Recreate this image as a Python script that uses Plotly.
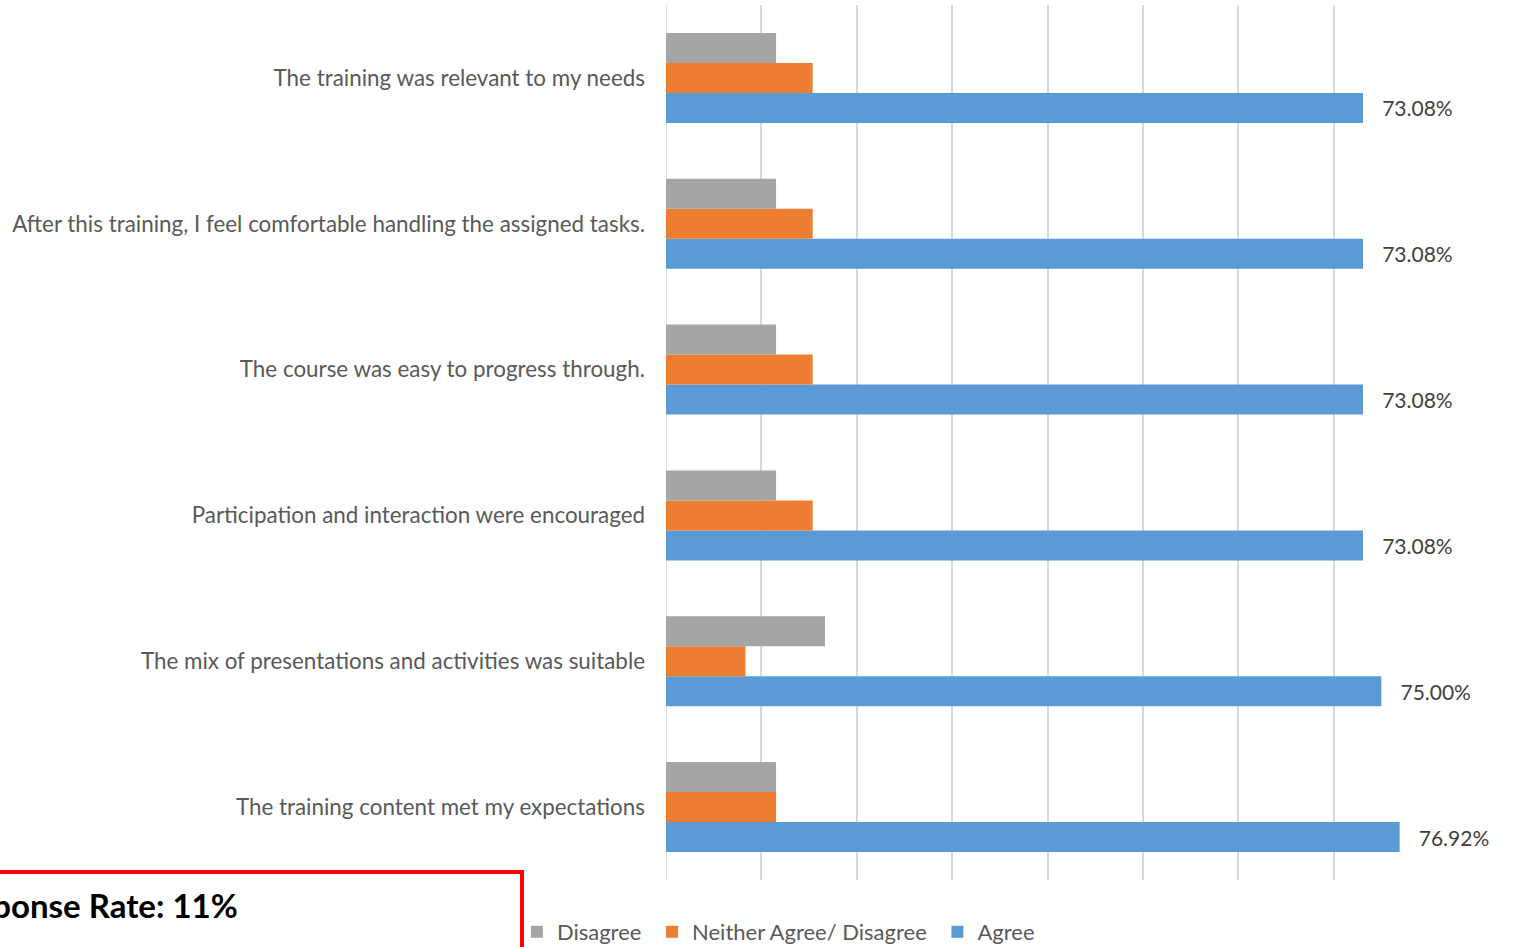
import plotly.graph_objects as go

# Categories listed top to bottom as in the chart
categories = [
    "The training was relevant to my needs",
    "After this training, I feel comfortable handling the assigned tasks.",
    "The course was easy to progress through.",
    "Participation and interaction were encouraged",
    "The mix of presentations and activities was suitable",
    "The training content met my expectations",
]
disagree = [0.1154, 0.1154, 0.1154, 0.1154, 0.1667, 0.1154]
neither = [0.1538, 0.1538, 0.1538, 0.1538, 0.0833, 0.1154]
agree = [0.7308, 0.7308, 0.7308, 0.7308, 0.7500, 0.7692]
agree_labels = ["73.08%", "73.08%", "73.08%", "73.08%", "75.00%", "76.92%"]
series_names = ["Disagree", "Neither Agree/ Disagree", "Agree"]
response_note = "Response Rate: 11%"

FONT = "Lato"
TXT = "#595959"
NB = "\u00a0"

fig = go.Figure()
fig.add_trace(go.Bar(
    y=categories, x=agree, name=series_names[2], orientation="h",
    marker=dict(color="#5b9bd5", line=dict(width=0)),
    text=[NB * 3 + t for t in agree_labels], textposition="outside",
    textfont=dict(family=FONT, size=21, color="#404040"), cliponaxis=False,
))
fig.add_trace(go.Bar(
    y=categories, x=neither, name=series_names[1] + NB, orientation="h",
    marker=dict(color="#ed7d31", line=dict(width=0)),
))
fig.add_trace(go.Bar(
    y=categories, x=disagree, name=series_names[0] + NB, orientation="h",
    marker=dict(color="#a5a5a5", line=dict(width=0)),
))

fig.update_layout(
    width=1517, height=947,
    margin=dict(l=666, r=88, t=5, b=67, autoexpand=False),
    paper_bgcolor="white", plot_bgcolor="white",
    barmode="group", bargap=0.383, bargroupgap=0,
    font=dict(family=FONT, size=20, color=TXT),
    showlegend=True,
    legend=dict(
        orientation="h", traceorder="reversed",
        x=-0.1954, xanchor="left", y=-0.0594, yanchor="middle",
        font=dict(family=FONT, size=22, color=TXT),
        itemwidth=30, bgcolor="rgba(0,0,0,0)",
    ),
    xaxis=dict(
        range=[0, 0.8], dtick=0.1, showgrid=True, gridcolor="#d9d9d9", gridwidth=1.5,
        showticklabels=False, zeroline=False, showline=False, fixedrange=True,
    ),
    yaxis=dict(
        categoryorder="array", categoryarray=categories[::-1],
        showgrid=False, showline=False, ticks="", ticklabelstandoff=20,
        tickfont=dict(family=FONT, size=22.4, color=TXT),
    ),
)

# zero line as a gridline at x=0
fig.add_shape(type="line", xref="x", yref="paper", x0=0, x1=0, y0=0, y1=1,
              line=dict(color="#d9d9d9", width=1.5), layer="below")

# red box with response rate note (partly outside the canvas)
fig.add_shape(type="rect", xref="paper", yref="paper",
              x0=-1.2, x1=-0.1887, y0=-0.3, y1=0.0091,
              line=dict(color="#ff0000", width=4), fillcolor="rgba(0,0,0,0)")
fig.add_annotation(text="<b>" + response_note + "</b>", xref="paper", yref="paper",
                   x=-0.5583, y=-0.0286, xanchor="right", yanchor="middle",
                   showarrow=False, font=dict(family=FONT, size=33, color="#000000"))

fig.write_html("out.html", config={"displayModeBar": False},
               post_script="document.body.style.margin='0';document.body.style.overflow='hidden';")
